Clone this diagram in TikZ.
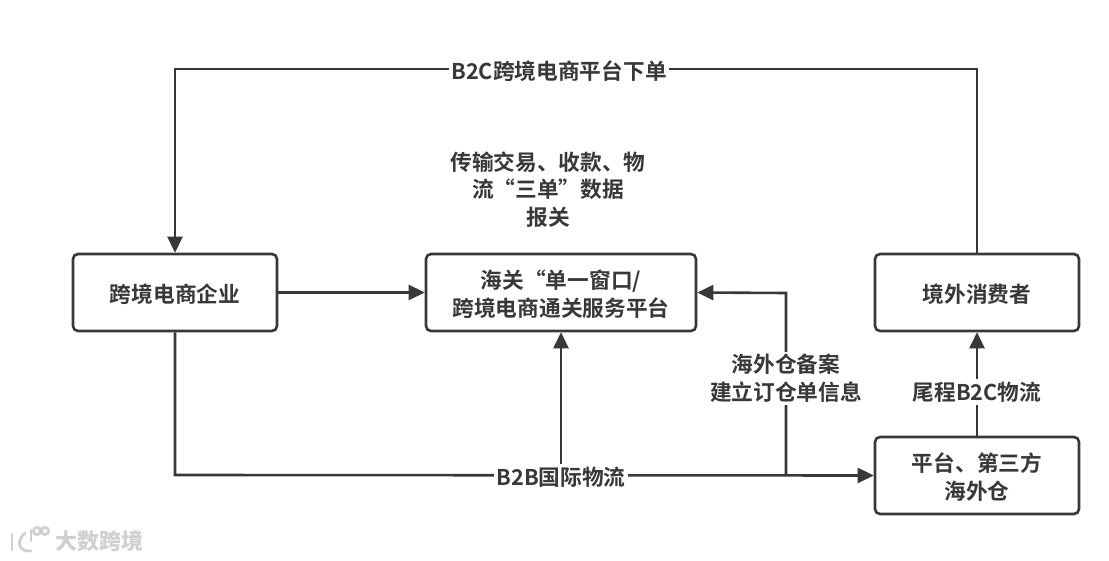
\documentclass[tikz,border=0pt]{standalone}
\usepackage{fontspec}
\setmainfont{Noto Sans CJK SC}[BoldFont={Noto Sans CJK SC Bold}]
\newfontfamily\wmfont{Noto Sans CJK SC}
\usetikzlibrary{arrows.meta,calc}
\definecolor{ink}{HTML}{383838}
\definecolor{wm}{HTML}{D0D0D0}
\newcommand\lowered[1]{\raisebox{-1.6pt}[\height][\depth]{#1}}
\tikzset{
  box/.style={draw=ink,line width=2.6pt,rounded corners=5pt,fill=white,inner sep=0pt,align=center,text=ink,font=\bfseries\fontsize{21.7}{27.7}\selectfont},
  lbl/.style={fill=white,inner sep=2.5pt,align=center,text=ink,font=\bfseries\fontsize{21.7}{27.7}\selectfont},
  note/.style={inner sep=0pt,align=center,text=ink,font=\bfseries\fontsize{21.7}{27.7}\selectfont},
  conn/.style={draw=ink,line width=2.6pt},
  arr/.style={conn,-{Triangle[length=16pt,width=15pt]}},
  wmline/.style={draw=wm,line width=2.8pt,line cap=round,fill=none}
}
\begin{document}
\begin{tikzpicture}[x=1pt,y=-1pt]
\useasboundingbox (0,0) rectangle (1109,561);
\node[box,minimum width=204pt,minimum height=77pt] (a) at (175,292.5) {\lowered{跨境电商企业}};
\node[box,minimum width=270pt,minimum height=77pt] (b) at (561,292.5) {\lowered{海关“单一窗口/}\\\lowered{跨境电商通关服务平台}};
\node[box,minimum width=204pt,minimum height=77pt] (c) at (977,292.5) {\lowered{境外消费者}};
\node[box,minimum width=204pt,minimum height=77pt] (d) at (977,475.5) {\lowered{平台、第三方}\\\lowered{海外仓}};
\node[note] (n) at (548,189.5) {传输交易、收款、物\\流“三单”数据\\报关};
\coordinate (tr) at (977,69);
\coordinate (tl) at (175,69);
\coordinate (bl) at (175,475);
\coordinate (j1) at (561,475);
\coordinate (j2) at (786,475);
\coordinate (up) at (786,293);
\draw[arr] (c.north) -- (tr) -- (tl) -- (a.north);
\draw[arr] (a.east) -- (b.west);
\draw[arr] (a.south) -- (bl) -- (d.west);
\draw[arr] (j1) -- (b.south);
\draw[arr] (j2) -- (up) -- (b.east);
\draw[arr] (d.north) -- (c.south);
\node[lbl] (l1) at (559,71) {B2C跨境电商平台下单};
\node[lbl] (l2) at (561,477) {B2B国际物流};
\node[lbl] (l3) at (786,378.5) {海外仓备案\\建立订仓单信息};
\node[lbl] (l4) at (977,392) {尾程B2C物流};
\node[inner sep=0pt,text=wm,font=\wmfont\bfseries\fontsize{22}{22}\selectfont] (w) at (99,541) {大数跨境};
% watermark logo
\draw[wmline] (12,534) -- (12,550);
\draw[wmline] (25,533) .. controls (16,541) and (18,552) .. (31,551);
\draw[wmline] (31,530) -- (31,541);
\draw[wmline] (37,531) circle[radius=3.6pt];
\draw[wmline] (45,531) circle[radius=3.6pt];
\end{tikzpicture}
\end{document}
